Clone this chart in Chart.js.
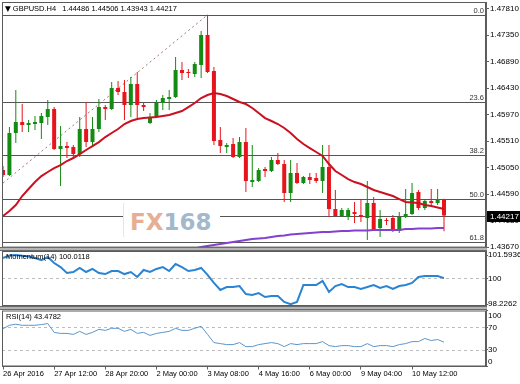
<!DOCTYPE html>
<html lang="en">
<head>
  <meta charset="UTF-8" />
  <title>GBPUSD H4</title>
  <script src="https://cdn.jsdelivr.net/npm/chart.js"></script>
  <style>
    body { margin: 0; background: #fff; }
    #wrap { position: relative; width: 520px; height: 384px; overflow: hidden; font-family: "Liberation Sans", Arial, sans-serif; }
    #wrap canvas { position: absolute; left: 0; }
    .txt { position: absolute; font-size: 7.5px; line-height: 9px; color: #000; white-space: pre; }
    .sep { position: absolute; left: 0; width: 487px; background: #b4b4b4; border-top: 1px solid #6a6a6a; border-bottom: 1px solid #6a6a6a; box-sizing: border-box; }
    #mark { position: absolute; left: 123px; top: 203px; width: 97px; height: 34px; background: #fff; border-left: 1px solid #e6e6e6; box-sizing: border-box; padding: 8px 0 0 6px; line-height: 23px; white-space: pre; }
    #mark span { font-family: "DejaVu Sans"; font-weight: bold; font-size: 23px; }
  </style>
</head>
<body>
  <div id="wrap">
    <canvas id="cMain" width="520" height="252" style="top:0"></canvas>
    <canvas id="cMom" width="520" height="62" style="top:248px"></canvas>
    <canvas id="cRsi" width="520" height="76" style="top:308px"></canvas>
    <div class="sep" style="top:247px;height:4px"></div>
    <div class="sep" style="top:306px;height:4px"></div>
    <div id="mark"><span style="color:#e6ae94">FX</span><span style="color:#a4b8cc">168</span></div>
    <div class="txt" style="left:5px;top:4px"><span style="font-size:7.5px;font-family:'DejaVu Sans'">▼</span> GBPUSD.H4<span style="margin-left:6px">1.44486 1.44506 1.43943 1.44217</span></div>
    <div class="txt" style="left:6px;top:252px">Momentum(14) 100.0118</div>
    <div class="txt" style="left:6px;top:312px">RSI(14) 43.4782</div>
  </div>

  <script>
    // H4 candles
    const opens = [1.45006, 1.44920, 1.45649, 1.45840, 1.45788, 1.45805, 1.45822, 1.45927, 1.46065, 1.45371,
      1.45423, 1.45406, 1.45284, 1.45718, 1.45492, 1.45718, 1.46100, 1.46065, 1.46430, 1.46361,
      1.46135, 1.46499, 1.46135, 1.45822, 1.45927, 1.46170, 1.46239, 1.46274, 1.46742, 1.46708,
      1.46673, 1.46829, 1.47350, 1.46725, 1.45527, 1.45406, 1.45458, 1.45232, 1.45492, 1.44798,
      1.44815, 1.45024, 1.44989, 1.45180, 1.45111, 1.44607, 1.44954, 1.44781, 1.44885, 1.44868,
      1.44815, 1.45059, 1.44329, 1.44208, 1.44190, 1.44277, 1.44225, 1.44173, 1.44434, 1.44000,
      1.44138, 1.44173, 1.43947, 1.44190, 1.44243, 1.44625, 1.44347, 1.44468, 1.44434, 1.44486];
    const highs = [1.45076, 1.45753, 1.46395, 1.46152, 1.45874, 1.45944, 1.45996, 1.46222, 1.46100, 1.45770,
      1.45492, 1.45440, 1.45927, 1.46187, 1.45927, 1.46239, 1.46135, 1.46534, 1.46551, 1.46569,
      1.46621, 1.46708, 1.46170, 1.45996, 1.46222, 1.46308, 1.46395, 1.46968, 1.46881, 1.46760,
      1.46881, 1.47419, 1.47700, 1.46794, 1.45753, 1.45475, 1.45562, 1.45579, 1.45736, 1.45440,
      1.45041, 1.45059, 1.45232, 1.45302, 1.45180, 1.45180, 1.45128, 1.44902, 1.44954, 1.44954,
      1.45440, 1.45440, 1.44659, 1.44347, 1.44347, 1.44451, 1.44503, 1.44815, 1.44538, 1.44312,
      1.44173, 1.44225, 1.44277, 1.44677, 1.44781, 1.44659, 1.44503, 1.44677, 1.44677, 1.44506];
    const lows = [1.44885, 1.44902, 1.45475, 1.45666, 1.45666, 1.45701, 1.45545, 1.45788, 1.45354, 1.44729,
      1.45215, 1.45232, 1.45232, 1.45406, 1.45406, 1.45666, 1.45874, 1.46048, 1.46308, 1.45874,
      1.45927, 1.45909, 1.46031, 1.45805, 1.45910, 1.46048, 1.46048, 1.46256, 1.46569, 1.46604,
      1.46621, 1.46604, 1.46690, 1.45440, 1.45302, 1.45302, 1.45215, 1.45215, 1.44625, 1.44711,
      1.44798, 1.44885, 1.44972, 1.45094, 1.44451, 1.44451, 1.44763, 1.44763, 1.44763, 1.44781,
      1.44607, 1.44190, 1.44190, 1.44190, 1.44138, 1.44086, 1.44104, 1.43791, 1.43948, 1.43843,
      1.44052, 1.43930, 1.43913, 1.44173, 1.44225, 1.44312, 1.44312, 1.44399, 1.44399, 1.43943];
    const closes = [1.44920, 1.45649, 1.45840, 1.45788, 1.45822, 1.45840, 1.45944, 1.46065, 1.45371, 1.45423,
      1.45388, 1.45284, 1.45718, 1.45492, 1.45718, 1.46100, 1.46065, 1.46430, 1.46361, 1.46135,
      1.46499, 1.46135, 1.46100, 1.45909, 1.46170, 1.46256, 1.46274, 1.46742, 1.46690, 1.46690,
      1.46847, 1.47350, 1.46708, 1.45510, 1.45423, 1.45440, 1.45232, 1.45492, 1.44815, 1.44833,
      1.45006, 1.44989, 1.45180, 1.45111, 1.44607, 1.44954, 1.44781, 1.44885, 1.44833, 1.44815,
      1.45059, 1.44329, 1.44208, 1.44312, 1.44312, 1.44243, 1.44190, 1.44434, 1.43965, 1.44156,
      1.44121, 1.43947, 1.44190, 1.44243, 1.44607, 1.44347, 1.44468, 1.44434, 1.44503, 1.44217];

    // moving averages (red short, purple long)
    const maShort = [1.44208, 1.44295, 1.44399, 1.44555, 1.44677, 1.44798, 1.44902, 1.44972, 1.45041, 1.45093,
      1.45163, 1.45215, 1.45284, 1.45354, 1.45423, 1.45492, 1.45579, 1.45649, 1.45718, 1.45805,
      1.45857, 1.45892, 1.45909, 1.45918, 1.45926, 1.45944, 1.45961, 1.45996, 1.46031, 1.46100,
      1.46170, 1.46256, 1.46308, 1.46343, 1.46326, 1.46291, 1.46239, 1.46187, 1.46152, 1.46083,
      1.45996, 1.45909, 1.45857, 1.45805, 1.45736, 1.45649, 1.45545, 1.45458, 1.45388, 1.45319,
      1.45250, 1.45111, 1.44989, 1.44920, 1.44850, 1.44798, 1.44764, 1.44712, 1.44660, 1.44625,
      1.44590, 1.44555, 1.44503, 1.44451, 1.44442, 1.44434, 1.44399, 1.44382, 1.44356, 1.44330];
    const maLong = [null, null, null, null, null, null, null, null, null, null,
      null, null, null, null, null, null, null, null, null, null,
      null, null, null, null, null, null, null, null, null, 1.43618,
      1.43644, 1.43670, 1.43687, 1.43704, 1.43722, 1.43739, 1.43756, 1.43774, 1.43791, 1.43809,
      1.43817, 1.43826, 1.43843, 1.43861, 1.43869, 1.43887, 1.43895, 1.43904, 1.43913, 1.43921,
      1.43930, 1.43930, 1.43939, 1.43947, 1.43947, 1.43956, 1.43956, 1.43956, 1.43965, 1.43965,
      1.43965, 1.43965, 1.43965, 1.43982, 1.43982, 1.43991, 1.43991, 1.43991, 1.43999, 1.43999];

    const momentum = [101.39, 101.56, 101.5936, 101.55, 101.49, 101.39, 101.25, 101.46, 101.05, 100.77,
      100.36, 100.43, 100.71, 100.43, 100.64, 100.36, 100.29, 100.50, 100.50, 100.29,
      100.43, 100.09, 100.57, 100.43, 100.64, 100.77, 100.50, 100.98, 100.77, 100.50,
      100.57, 100.71, 100.23, 99.68, 99.20, 99.40, 99.40, 99.47, 98.92, 98.86,
      98.99, 98.72, 98.79, 98.79, 98.38, 98.2262, 98.38, 99.54, 99.54, 99.54,
      99.82, 99.06, 99.47, 99.61, 99.40, 99.40, 99.27, 99.40, 99.54, 99.34,
      99.47, 99.27, 99.47, 99.54, 99.68, 100.09, 100.16, 100.16, 100.16, 100.0118];
    const rsi = [67.6, 73.6, 75.5, 73.6, 73.6, 73.6, 74.9, 76.7, 60.9, 59.1,
      59.1, 57.3, 62.7, 57.3, 60.9, 66.4, 64.5, 68.2, 68.2, 62.7,
      66.4, 59.1, 60.9, 55.5, 59.1, 60.9, 62.7, 68.2, 64.5, 64.5,
      68.2, 71.8, 57.3, 42.7, 40.9, 39.1, 39.1, 42.7, 35.5, 35.5,
      39.1, 40.9, 42.7, 40.9, 35.5, 40.9, 39.1, 40.9, 40.9, 40.9,
      44.5, 37.3, 35.5, 37.3, 37.3, 35.5, 35.5, 40.9, 35.5, 37.3,
      37.3, 35.5, 39.1, 40.9, 44.5, 44.5, 50.0, 46.4, 48.2, 43.4782];

    const fibLevels = [1.4770, 1.4619, 1.4526, 1.4450, 1.4375];
    const fibNames = ['0.0', '23.6', '38.2', '50.0', '61.8'];
    const trendBars = [0, 32];
    const trendPrices = [1.4478, 1.4770];
    const bid = 1.44217;

    const priceTicks = [1.47810, 1.47350, 1.46890, 1.46430, 1.45970, 1.45510, 1.45050, 1.44590, 1.44130, 1.43670];
    const momTicks = [101.5936, 100, 98.2262];
    const rsiTicks = [100, 70, 30, 0];
    const dateLabels = ['26 Apr 2016', '27 Apr 12:00', '28 Apr 20:00', '2 May 00:00', '3 May 08:00',
      '4 May 16:00', '6 May 00:00', '9 May 04:00', '10 May 12:00'];
    const dateTickBars = [0, 8, 16, 24, 32, 40, 48, 56, 64];

    const bars = opens.map((_, i) => i);
    const candleColor = opens.map((o, i) => closes[i] >= o ? '#148c14' : '#e8141c');

    const xMin = -0.16, xMax = 75.57;
    const fontFam = '"Liberation Sans", Arial, sans-serif';
    const axisFont = { family: fontFam, size: 8 };
    const smallFont = { family: fontFam, size: 7.5 };

    const hiddenX = () => ({ type: 'linear', min: xMin, max: xMax, display: false, offset: false });

    function rightAxis(min, max, ticks, fmt, tickLen, pad) {
      return {
        position: 'right', min, max,
        afterBuildTicks: s => { s.ticks = ticks.map(v => ({ value: v })); },
        afterFit: s => { s.width = 34; s.paddingTop = 0; s.paddingBottom = 0; },
        grid: { drawOnChartArea: false, tickLength: tickLen, color: '#606060' },
        border: { color: '#606060' },
        ticks: { autoSkip: false, padding: pad, color: '#000', font: axisFont, callback: fmt }
      };
    }

    const frame = {
      id: 'frame',
      afterDraw(chart) {
        const { ctx, chartArea: a } = chart;
        ctx.save();
        ctx.strokeStyle = '#5a5a5a';
        ctx.lineWidth = 1;
        ctx.strokeRect(a.left + 0.5, a.top + 0.5, a.right - a.left - 1, a.bottom - a.top - 1);
        ctx.restore();
      }
    };

    function hLines(levels, color, dash) {
      return {
        id: 'hlines',
        beforeDatasetsDraw(chart) {
          const { ctx, chartArea: a, scales: { y } } = chart;
          ctx.save();
          ctx.strokeStyle = color;
          ctx.lineWidth = 1;
          ctx.setLineDash(dash);
          levels.forEach(v => {
            const py = Math.round(y.getPixelForValue(v)) + 0.5;
            ctx.beginPath();
            ctx.moveTo(a.left, py);
            ctx.lineTo(a.right, py);
            ctx.stroke();
          });
          ctx.restore();
        }
      };
    }

    const fibText = {
      id: 'fibText',
      afterDatasetsDraw(chart) {
        const { ctx, chartArea: a, scales: { y } } = chart;
        ctx.save();
        ctx.fillStyle = '#333';
        ctx.font = '7.5px ' + fontFam;
        ctx.textAlign = 'right';
        ctx.textBaseline = 'bottom';
        fibLevels.forEach((v, i) => ctx.fillText(fibNames[i], a.right - 2, Math.round(y.getPixelForValue(v)) - 0.5));
        ctx.restore();
      },
      afterDraw(chart) {
        const { ctx, chartArea: a, scales: { y } } = chart;
        const py = y.getPixelForValue(bid);
        ctx.save();
        ctx.fillStyle = '#000';
        ctx.fillRect(a.right + 1, Math.round(py) - 5, 34, 11);
        ctx.fillStyle = '#fff';
        ctx.font = '8px ' + fontFam;
        ctx.textBaseline = 'middle';
        ctx.fillText(bid.toFixed(5), a.right + 4, Math.round(py) + 0.5);
        ctx.restore();
      }
    };

    const rsiEdge = {
      id: 'rsiEdge',
      afterDraw(chart) {
        const { ctx, chartArea: a, scales: { y } } = chart;
        ctx.save();
        ctx.fillStyle = '#000';
        ctx.font = '8px ' + fontFam;
        ctx.textBaseline = 'middle';
        ctx.fillText('100', a.right + 2, y.getPixelForValue(100) + 5);
        ctx.fillText('0', a.right + 2, y.getPixelForValue(0) - 4.5);
        ctx.restore();
      }
    };

    const common = {
      responsive: false,
      animation: false,
      events: [],
      plugins: { legend: { display: false }, tooltip: { enabled: false } }
    };

    new Chart(document.getElementById('cMain'), {
      type: 'bar',
      data: {
        labels: bars,
        datasets: [
          { type: 'line', data: maShort, borderColor: '#cc1020', borderWidth: 2, pointRadius: 0, order: 0 },
          { type: 'line', data: maLong, borderColor: '#8440d0', borderWidth: 2, pointRadius: 0, order: 0 },
          { data: lows.map((l, i) => [l, highs[i]]), backgroundColor: candleColor, maxBarThickness: 1, grouped: false, order: 2 },
          { data: opens.map((o, i) => [o, closes[i]]), backgroundColor: candleColor, maxBarThickness: 4, minBarLength: 1, grouped: false, order: 1 },
          { type: 'line', data: trendBars.map((b, i) => ({ x: b, y: trendPrices[i] })), borderColor: '#a07474', borderWidth: 1, borderDash: [2, 3], pointRadius: 0, order: 3 }
        ]
      },
      options: {
        ...common,
        layout: { padding: { left: 2, top: 2, bottom: 4.4, right: 0 } },
        scales: {
          x: hiddenX(),
          y: rightAxis(1.4366, 1.47923, priceTicks, v => v.toFixed(5), 3, 1)
        }
      },
      plugins: [hLines(fibLevels.concat([bid]), '#555', []), fibText, frame]
    });

    new Chart(document.getElementById('cMom'), {
      type: 'line',
      data: {
        labels: bars,
        datasets: [{ data: momentum, borderColor: '#2a84d4', borderWidth: 2, pointRadius: 0 }]
      },
      options: {
        ...common,
        layout: { padding: { left: 2, top: 3, bottom: 4, right: 0 } },
        scales: {
          x: hiddenX(),
          y: rightAxis(98.103, 101.870, momTicks, v => v === 100 ? '100' : v.toFixed(4), 2, 0)
        }
      },
      plugins: [hLines([100], '#bdbdbd', [3, 3]), frame]
    });

    new Chart(document.getElementById('cRsi'), {
      type: 'line',
      data: {
        labels: bars,
        datasets: [{ data: rsi, borderColor: '#5a96cc', borderWidth: 1, pointRadius: 0 }]
      },
      options: {
        ...common,
        layout: { padding: { left: 2, top: 2.5, bottom: 0, right: 0 } },
        scales: {
          x: {
            type: 'linear', min: xMin, max: xMax, offset: false,
            afterBuildTicks: s => { s.ticks = dateTickBars.map(v => ({ value: v })); },
            afterFit: s => { s.height = 17.5; s.paddingLeft = 0; s.paddingRight = 0; },
            grid: { drawOnChartArea: false, tickLength: 3, color: '#606060' },
            border: { color: '#606060' },
            ticks: { autoSkip: false, maxRotation: 0, align: 'start', padding: 0, color: '#000', font: smallFont,
              callback: (v, i) => dateLabels[i] }
          },
          y: rightAxis(0, 100, rsiTicks, v => (v === 70 || v === 30) ? String(v) : '', 2, 0)
        }
      },
      plugins: [hLines([70, 30], '#bdbdbd', [3, 3]), rsiEdge, frame]
    });
  </script>
</body>
</html>
